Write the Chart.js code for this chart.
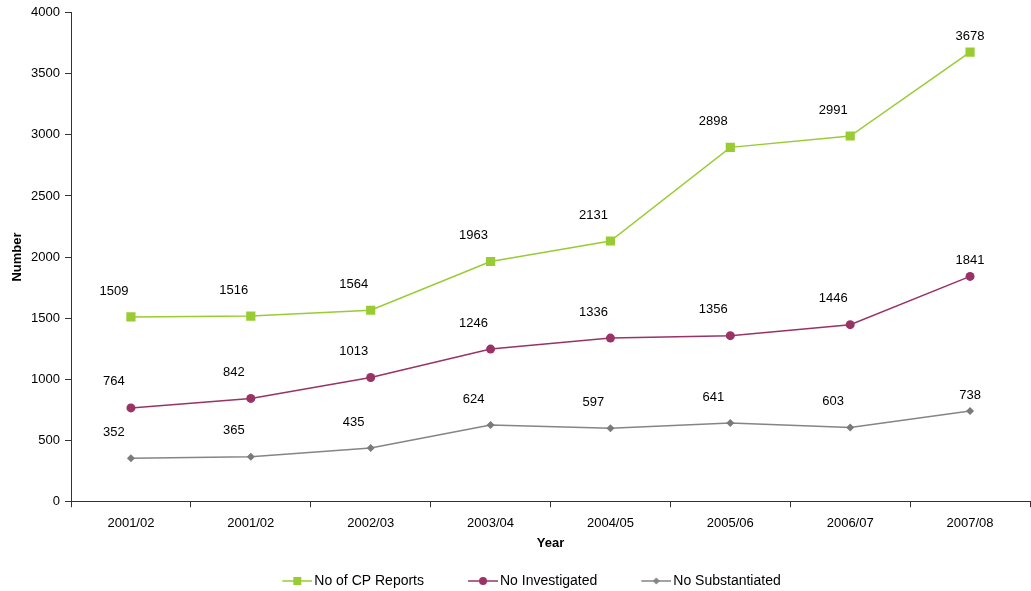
<!doctype html>
<html>
<head>
<meta charset="utf-8" />
<title>CP Reports</title>
<script src="https://cdn.jsdelivr.net/npm/chart.js@4.4.1/dist/chart.umd.min.js"></script>
<style>
  html, body { margin: 0; padding: 0; background: #fff; }
  #wrap { width: 1031px; height: 591px; }
</style>
</head>
<body>
<div id="wrap"><canvas id="canvas"></canvas></div>
<script>
  const years = ['2001/02', '2001/02', '2002/03', '2003/04', '2004/05', '2005/06', '2006/07', '2007/08'];
  const cpReports = [1509, 1516, 1564, 1963, 2131, 2898, 2991, 3678];
  const investigated = [764, 842, 1013, 1246, 1336, 1356, 1446, 1841];
  const substantiated = [352, 365, 435, 624, 597, 641, 603, 738];
  const yTicks = [0, 500, 1000, 1500, 2000, 2500, 3000, 3500, 4000];

  const FONT = 'Liberation Sans, Arial, sans-serif';
  const GREEN = '#99cc33';
  const PURPLE = '#993366';
  const GREY = '#858585';

  // legend swatch: a short line with the marker in the middle, drawn to a small canvas
  const BOX_W = 63;
  const ICON_W = BOX_W + 10;
  function legendIcon(color, shape) {
    const c = document.createElement('canvas');
    c.width = ICON_W;
    c.height = 12;
    const ctx = c.getContext('2d');
    ctx.strokeStyle = color;
    ctx.lineWidth = 1.5;
    ctx.beginPath();
    ctx.moveTo(ICON_W - 30, 6);
    ctx.lineTo(ICON_W, 6);
    ctx.stroke();
    ctx.fillStyle = color;
    const cx = ICON_W - 15;
    ctx.beginPath();
    if (shape === 'rect') {
      ctx.rect(cx - 4, 2, 8, 8);
    } else if (shape === 'circle') {
      ctx.arc(cx, 6, 4, 0, Math.PI * 2);
    } else {
      ctx.moveTo(cx, 2.5); ctx.lineTo(cx + 3.5, 6); ctx.lineTo(cx, 9.5); ctx.lineTo(cx - 3.5, 6);
      ctx.closePath();
    }
    ctx.fill();
    return c;
  }
  const icons = [legendIcon(GREEN, 'rect'), legendIcon(PURPLE, 'circle'), legendIcon(GREY, 'diamond')];

  // value labels above each point
  const valueLabels = {
    id: 'valueLabels',
    afterDatasetsDraw(chart) {
      const ctx = chart.ctx;
      ctx.save();
      ctx.font = '13px ' + FONT;
      ctx.fillStyle = '#000';
      ctx.textAlign = 'center';
      ctx.textBaseline = 'middle';
      chart.data.datasets.forEach((ds, i) => {
        const meta = chart.getDatasetMeta(i);
        meta.data.forEach((pt, j) => {
          const last = j === meta.data.length - 1;
          const dx = last ? 0 : -17;
          const dy = last ? -16 : -26;
          ctx.fillText(String(ds.data[j]), pt.x + dx, pt.y + dy);
        });
      });
      ctx.restore();
    }
  };

  Chart.defaults.font.family = FONT;
  Chart.defaults.font.size = 13;
  Chart.defaults.color = '#000';

  new Chart(document.getElementById('canvas'), {
    type: 'line',
    data: {
      labels: years,
      datasets: [{
        label: 'No of CP Reports',
        data: cpReports,
        borderColor: GREEN,
        backgroundColor: GREEN,
        borderWidth: 1.5,
        pointStyle: 'rect',
        pointRadius: 6.5,
        pointBorderWidth: 0
      }, {
        label: 'No Investigated',
        data: investigated,
        borderColor: PURPLE,
        backgroundColor: PURPLE,
        borderWidth: 1.5,
        pointStyle: 'circle',
        pointRadius: 4.5,
        pointBorderWidth: 0
      }, {
        label: 'No Substantiated',
        data: substantiated,
        borderColor: GREY,
        backgroundColor: '#7a7a7a',
        borderWidth: 1.5,
        pointStyle: 'rectRot',
        pointRadius: 4,
        pointBorderWidth: 0
      }]
    },
    options: {
      responsive: true,
      maintainAspectRatio: false,
      animation: false,
      layout: { autoPadding: false, padding: { left: -5, right: 1, top: 12, bottom: -7 } },
      plugins: {
        tooltip: { enabled: false },
        legend: {
          position: 'bottom',
          labels: {
            usePointStyle: true,
            pointStyleWidth: BOX_W,
            padding: 6,
            font: { size: 14 },
            generateLabels(chart) {
              const items = Chart.defaults.plugins.legend.labels.generateLabels(chart);
              items.forEach((it, i) => { it.pointStyle = icons[i]; });
              return items;
            }
          }
        }
      },
      scales: {
        x: {
          offset: true,
          grid: { offset: true, drawOnChartArea: false, tickLength: 6, color: '#333' },
          border: { color: '#333', width: 1 },
          ticks: { padding: 8, maxRotation: 0 },
          title: { display: true, text: 'Year', font: { weight: 'bold', size: 13 }, padding: { top: -3, bottom: 16.6 } }
        },
        y: {
          min: 0,
          max: 4000,
          afterBuildTicks(scale) { scale.ticks = yTicks.map(v => ({ value: v })); },
          afterFit(scale) { scale.width = 76; },
          grid: { drawOnChartArea: false, tickLength: 6, color: '#333' },
          border: { color: '#333', width: 1 },
          ticks: { padding: 5, callback: v => String(v) },
          title: { display: true, text: 'Number', font: { weight: 'bold', size: 13 }, padding: { top: 15, bottom: 0 } }
        }
      }
    },
    plugins: [valueLabels]
  });
</script>
</body>
</html>
